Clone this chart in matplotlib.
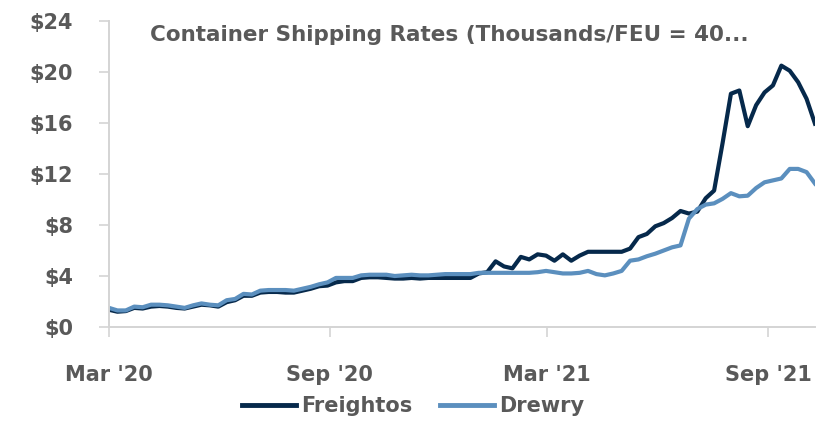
import pandas as pd
import matplotlib.pyplot as plt
import matplotlib.dates as mdates
from matplotlib.ticker import FuncFormatter

plt.rcParams['font.family'] = ['DejaVu Sans']

# Недельные данные, тыс. $ за FEU
dates = pd.date_range('2020-03-01', periods=85, freq='7D')

freightos = [1.35, 1.2, 1.25, 1.5, 1.45, 1.6, 1.65, 1.6, 1.5, 1.45,
             1.6, 1.75, 1.7, 1.6, 1.95, 2.1, 2.45, 2.45, 2.7, 2.75,
             2.75, 2.7, 2.7, 2.85, 3.0, 3.2, 3.25, 3.5, 3.6, 3.6,
             3.85, 3.9, 3.9, 3.85, 3.8, 3.8, 3.85, 3.8, 3.85, 3.85,
             3.85, 3.85, 3.85, 3.85, 4.2, 4.3, 5.15, 4.75, 4.6, 5.5,
             5.3, 5.7, 5.6, 5.2, 5.7, 5.2, 5.6, 5.9, 5.9, 5.9,
             5.9, 5.9, 6.15, 7.05, 7.3, 7.9, 8.15, 8.55, 9.1, 8.9,
             9.05, 10.1, 10.7, 14.4, 18.3, 18.55, 15.75, 17.4, 18.4, 18.95,
             20.5, 20.1, 19.2, 17.9, 15.95]

drewry = [1.5, 1.3, 1.3, 1.6, 1.55, 1.75, 1.75, 1.7, 1.6, 1.5,
          1.7, 1.85, 1.75, 1.7, 2.1, 2.2, 2.6, 2.55, 2.85, 2.9,
          2.9, 2.9, 2.85, 3.0, 3.15, 3.35, 3.5, 3.85, 3.85, 3.85,
          4.05, 4.1, 4.1, 4.1, 4.0, 4.05, 4.1, 4.05, 4.05, 4.1,
          4.15, 4.15, 4.15, 4.15, 4.25, 4.25, 4.25, 4.25, 4.25, 4.25,
          4.25, 4.3, 4.4, 4.3, 4.2, 4.2, 4.25, 4.4, 4.15, 4.05,
          4.2, 4.4, 5.2, 5.3, 5.55, 5.75, 6.0, 6.25, 6.4, 8.5,
          9.25, 9.6, 9.7, 10.05, 10.5, 10.25, 10.3, 10.9, 11.35, 11.5,
          11.65, 12.4, 12.4, 12.15, 11.25]

x_ticks = pd.to_datetime(['2020-03-01', '2020-09-01', '2021-03-01', '2021-09-01'])
y_ticks = [0, 4, 8, 12, 16, 20, 24]

text_col = '#595959'
axis_col = '#d4d4d4'

fig = plt.figure(figsize=(8.31, 4.22), dpi=100)
ax = fig.add_axes([0.1312, 0.2251, 0.8495, 0.7251])

ax.plot(dates, freightos, color='#06294b', lw=3.0, label='Freightos',
        solid_joinstyle='round')
ax.plot(dates, drewry, color='#5b8fbe', lw=3.0, label='Drewry',
        solid_joinstyle='round')

ax.set_xlim(dates[0], dates[-1])
ax.set_ylim(0, 24)
ax.set_yticks(y_ticks)
ax.yaxis.set_major_formatter(FuncFormatter(lambda v, p: f'${v:.0f}'))
ax.set_xticks(x_ticks)
ax.xaxis.set_major_formatter(mdates.DateFormatter("%b '%y"))

for s in ['top', 'right']:
    ax.spines[s].set_visible(False)
for s in ['left', 'bottom']:
    ax.spines[s].set_color(axis_col)
    ax.spines[s].set_linewidth(1.4)

ax.tick_params(axis='y', length=7, width=1.2, color=axis_col, pad=19,
               labelsize=15, labelcolor=text_col)
ax.tick_params(axis='x', length=7, width=1.2, color=axis_col, pad=20,
               labelsize=15, labelcolor=text_col)
for lab in ax.get_xticklabels() + ax.get_yticklabels():
    lab.set_fontweight('bold')

fig.text(150 / 831, 1 - 35 / 422, 'Container Shipping Rates (Thousands/FEU = 40...',
         fontsize=15.5, fontweight='bold', color=text_col, ha='left', va='center')

leg = fig.legend(loc='center', bbox_to_anchor=(0.497, 1 - 406 / 422), ncol=2,
                 frameon=False, handlelength=2.6, handletextpad=0.25,
                 columnspacing=1.3, prop={'weight': 'bold', 'size': 15})
for t in leg.get_texts():
    t.set_color(text_col)
for h in leg.legend_handles:
    h.set_linewidth(3.5)

plt.savefig('out.png', dpi=100)
